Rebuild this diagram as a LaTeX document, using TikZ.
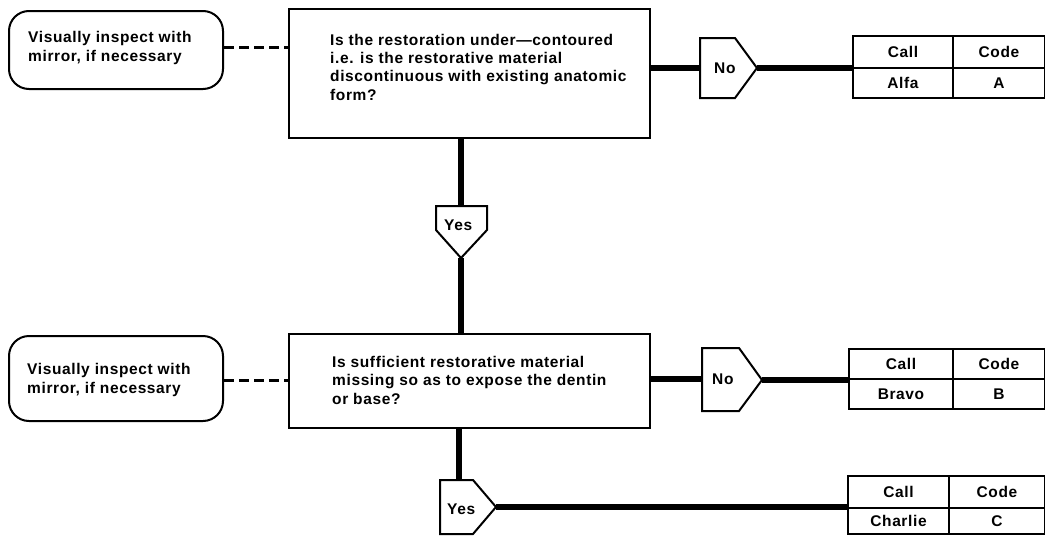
\documentclass[tikz,border=0pt]{standalone}
\usepackage{fontspec}
\setmainfont{Liberation Sans}
\newfontfamily\labfont[LetterSpace=4]{Liberation Sans}
\begin{document}
\begin{tikzpicture}[x=1pt,y=-1pt,
  conn/.style={line width=6.5pt},
  outline/.style={draw, line width=2pt},
  dashconn/.style={line width=3pt, dash pattern=on 10pt off 5pt},
  txt/.style={font=\labfont\fontsize{15.5}{18.3}\selectfont\bfseries, inner sep=0pt, align=left},
  cell/.style={outline, inner sep=0pt, anchor=north west, font=\labfont\fontsize{15.5}{16}\selectfont\bfseries},
  side/.style={outline, rounded corners=20pt, inner sep=0pt, anchor=north west},
  qbox/.style={outline, inner sep=0pt, anchor=north west},
]
\useasboundingbox (0,0) rectangle (1045,536);

% ---------- first question ----------
\node[side, minimum width=214pt, minimum height=78pt] (L1) at (8,10) {};
\node[txt, anchor=base west] (L1t) at (28,61) {Visually inspect with\\mirror, if necessary};
\node[qbox, minimum width=361pt, minimum height=129pt] (Q1) at (288,8) {};
\node[txt, anchor=base west] (Q1t) at (330,100) {Is the restoration under—contoured\\i.e. is the restorative material\\discontinuous with existing anatomic\\form?};

% No pentagon 1
\draw[outline] (700,38) -- (735,38) -- (757,68) -- (735,98) -- (700,98) -- cycle;
\coordinate (No1w) at (700,68);
\coordinate (No1tip) at (757,68);
\node[txt, anchor=base west] (No1) at (714,73) {No};

% table 1
\node[cell, minimum width=100pt, minimum height=32pt] (T1a) at (852,35) {Call};
\node[cell, minimum width=92pt, minimum height=32pt] (T1b) at (952,35) {Code};
\node[cell, minimum width=100pt, minimum height=30pt] (T1c) at (852,67) {Alfa};
\node[cell, minimum width=92pt, minimum height=30pt] (T1d) at (952,67) {A};

% Yes pentagon 1
\draw[outline] (436,206) -- (487,206) -- (487,230) -- (461,258) -- (436,230) -- cycle;
\coordinate (Y1top) at (461,206);
\coordinate (Y1tip) at (461,258);
\node[txt, anchor=base west] (Y1) at (444,230) {Yes};

% ---------- second question ----------
\node[side, minimum width=214pt, minimum height=85pt] (L2) at (8,335) {};
\node[txt, anchor=base west] (L2t) at (27,393) {Visually inspect with\\mirror, if necessary};
\node[qbox, minimum width=361pt, minimum height=94pt] (Q2) at (288,333) {};
\node[txt, anchor=base west] (Q2t) at (332,404) {Is sufficient restorative material\\missing so as to expose the dentin\\or base?};

% No pentagon 2
\draw[outline] (702,348) -- (739,348) -- (762,380) -- (739,411) -- (702,411) -- cycle;
\coordinate (No2w) at (702,379);
\coordinate (No2tip) at (762,380);
\node[txt, anchor=base west] (No2) at (712,384) {No};

% table 2
\node[cell, minimum width=104pt, minimum height=30pt] (T2a) at (848,348) {Call};
\node[cell, minimum width=92pt, minimum height=30pt] (T2b) at (952,348) {Code};
\node[cell, minimum width=104pt, minimum height=30pt] (T2c) at (848,378) {Bravo};
\node[cell, minimum width=92pt, minimum height=30pt] (T2d) at (952,378) {B};

% Yes pentagon 2
\draw[outline] (440,480) -- (473,480) -- (496,507) -- (473,534) -- (440,534) -- cycle;
\coordinate (Y2top) at (459,480);
\coordinate (Y2tip) at (496,507);
\node[txt, anchor=base west] (Y2) at (447,514) {Yes};

% table 3
\node[cell, minimum width=101pt, minimum height=32pt] (T3a) at (847,475) {Call};
\node[cell, minimum width=96pt, minimum height=32pt] (T3b) at (948,475) {Code};
\node[cell, minimum width=101pt, minimum height=26pt] (T3c) at (847,507) {Charlie};
\node[cell, minimum width=96pt, minimum height=26pt] (T3d) at (948,507) {C};

% ---------- connectors ----------
\draw[dashconn] (L1.east |- 0,47) -- (Q1.west |- 0,47);
\draw[dashconn] (L2.east |- 0,380) -- (Q2.west |- 0,380);
\draw[conn] (Q1.east |- No1w) -- (No1w);
\draw[conn] (No1tip) -- (No1tip -| T1a.west);
\draw[conn] (Y1top |- Q1.south) -- (Y1top);
\draw[conn] (Y1tip) -- (Y1tip |- Q2.north);
\draw[conn] (Q2.east |- No2w) -- (No2w);
\draw[conn] (No2tip) -- (No2tip -| T2a.west);
\draw[conn] (Y2top |- Q2.south) -- (Y2top);
\draw[conn] (Y2tip) -- (Y2tip -| T3a.west);
\end{tikzpicture}
\end{document}
